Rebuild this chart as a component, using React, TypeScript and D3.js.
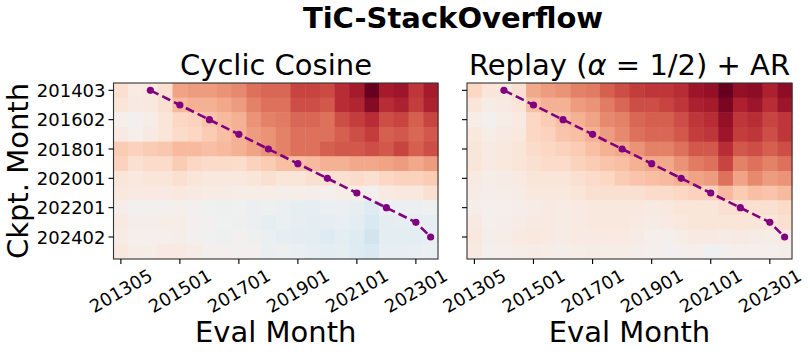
import React from 'react';
import * as d3 from 'd3';

// eval months (columns) and checkpoint months (rows)
const evalMonths = [
  '201305', '201310', '201403', '201408', '201501', '201507', '201601', '201607',
  '201701', '201707', '201801', '201807', '201901', '201907', '202001', '202007',
  '202101', '202107', '202201', '202207', '202301', '202307',
];
const ckptMonths = [
  '201403', '201501', '201602', '201701', '201801', '201901',
  '202001', '202101', '202201', '202301', '202402', '202406',
];
const xTickLabels = ['201305', '201501', '201701', '201901', '202101', '202301'];
const yTickLabels = ['201403', '201602', '201801', '202001', '202201', '202402'];

// the eval month each checkpoint was trained up to (purple diagonal)
const diagCkpt = ['201403', '201501', '201602', '201701', '201801', '201901', '202001', '202101', '202201', '202301', '202402'];
const diagEval = ['201403', '201501', '201601', '201701', '201801', '201901', '202001', '202101', '202201', '202301', '202307'];

// relative scores, one row per checkpoint
const cyclicCosine = [
  [0.15, 0.07, 0.10, 0.15, 0.40, 0.42, 0.42, 0.45, 0.48, 0.55, 0.58, 0.58, 0.68, 0.68, 0.66, 0.75, 0.82, 1.00, 0.82, 0.85, 0.72, 0.82],
  [0.12, 0.08, 0.10, 0.15, 0.32, 0.35, 0.35, 0.38, 0.42, 0.50, 0.55, 0.55, 0.65, 0.65, 0.62, 0.75, 0.78, 0.92, 0.75, 0.80, 0.70, 0.80],
  [0.03, 0.00, 0.05, 0.12, 0.20, 0.22, 0.28, 0.32, 0.35, 0.45, 0.50, 0.52, 0.58, 0.58, 0.55, 0.65, 0.70, 0.75, 0.65, 0.68, 0.60, 0.68],
  [0.08, 0.03, 0.08, 0.12, 0.18, 0.20, 0.25, 0.30, 0.35, 0.42, 0.45, 0.50, 0.55, 0.55, 0.55, 0.60, 0.65, 0.70, 0.60, 0.62, 0.58, 0.62],
  [0.25, 0.22, 0.25, 0.27, 0.32, 0.32, 0.30, 0.32, 0.35, 0.40, 0.45, 0.50, 0.55, 0.55, 0.60, 0.62, 0.62, 0.65, 0.62, 0.68, 0.60, 0.65],
  [0.22, 0.15, 0.18, 0.18, 0.25, 0.20, 0.18, 0.18, 0.17, 0.22, 0.25, 0.30, 0.30, 0.32, 0.35, 0.35, 0.38, 0.38, 0.40, 0.42, 0.38, 0.42],
  [0.12, 0.10, 0.12, 0.12, 0.15, 0.12, 0.10, 0.10, 0.10, 0.12, 0.15, 0.12, 0.12, 0.15, 0.15, 0.15, 0.18, 0.15, 0.20, 0.22, 0.22, 0.25],
  [0.10, 0.08, 0.08, 0.08, 0.10, 0.08, 0.07, 0.06, 0.05, 0.05, 0.05, 0.04, 0.05, 0.04, 0.02, 0.05, 0.05, 0.00, 0.08, 0.10, 0.10, 0.15],
  [0.04, 0.00, -0.01, 0.00, 0.02, 0.00, -0.02, -0.03, -0.02, -0.05, -0.03, -0.05, -0.08, -0.08, -0.06, -0.05, -0.08, -0.12, -0.06, -0.05, -0.05, -0.03],
  [0.08, 0.04, 0.04, 0.05, 0.05, 0.02, 0.00, -0.02, -0.03, -0.05, -0.08, -0.06, -0.08, -0.10, -0.08, -0.07, -0.10, -0.15, -0.10, -0.08, -0.08, -0.08],
  [0.06, 0.03, 0.02, 0.03, 0.04, 0.00, -0.02, -0.03, 0.00, -0.03, -0.06, -0.08, -0.10, -0.10, -0.12, -0.10, -0.12, -0.18, -0.10, -0.10, -0.10, -0.08],
  [0.10, 0.05, 0.05, 0.08, 0.08, 0.06, 0.00, 0.02, 0.00, 0.00, -0.05, -0.03, -0.06, -0.08, -0.10, -0.08, -0.12, -0.15, -0.08, -0.08, -0.07, -0.06],
];

const replayAR = [
  [0.20, 0.12, 0.10, 0.15, 0.38, 0.42, 0.45, 0.50, 0.52, 0.60, 0.65, 0.70, 0.72, 0.72, 0.75, 0.85, 0.88, 1.00, 0.88, 0.90, 0.80, 0.90],
  [0.12, 0.06, 0.08, 0.12, 0.30, 0.35, 0.35, 0.42, 0.45, 0.52, 0.58, 0.65, 0.65, 0.68, 0.72, 0.80, 0.82, 0.95, 0.80, 0.85, 0.75, 0.85],
  [0.05, 0.00, 0.05, 0.08, 0.20, 0.25, 0.30, 0.35, 0.40, 0.48, 0.50, 0.58, 0.60, 0.60, 0.65, 0.72, 0.75, 0.88, 0.72, 0.75, 0.68, 0.72],
  [0.10, 0.05, 0.08, 0.10, 0.20, 0.22, 0.28, 0.30, 0.35, 0.42, 0.48, 0.55, 0.58, 0.58, 0.62, 0.70, 0.72, 0.85, 0.70, 0.72, 0.65, 0.72],
  [0.12, 0.08, 0.10, 0.12, 0.18, 0.20, 0.22, 0.25, 0.30, 0.35, 0.38, 0.45, 0.50, 0.50, 0.55, 0.62, 0.62, 0.75, 0.62, 0.65, 0.60, 0.65],
  [0.12, 0.08, 0.10, 0.12, 0.15, 0.18, 0.18, 0.22, 0.25, 0.28, 0.30, 0.35, 0.38, 0.38, 0.45, 0.52, 0.55, 0.68, 0.50, 0.55, 0.50, 0.55],
  [0.08, 0.05, 0.06, 0.08, 0.12, 0.12, 0.12, 0.15, 0.18, 0.20, 0.25, 0.28, 0.30, 0.32, 0.35, 0.40, 0.42, 0.55, 0.40, 0.48, 0.42, 0.45],
  [0.06, 0.04, 0.05, 0.06, 0.10, 0.10, 0.10, 0.12, 0.15, 0.15, 0.15, 0.15, 0.18, 0.18, 0.20, 0.22, 0.22, 0.32, 0.25, 0.30, 0.28, 0.32],
  [0.04, 0.02, 0.03, 0.04, 0.06, 0.08, 0.07, 0.08, 0.10, 0.10, 0.10, 0.10, 0.08, 0.10, 0.12, 0.12, 0.12, 0.15, 0.15, 0.15, 0.15, 0.18],
  [0.08, 0.03, 0.04, 0.06, 0.08, 0.08, 0.06, 0.08, 0.10, 0.10, 0.10, 0.08, 0.06, 0.08, 0.10, 0.12, 0.12, 0.12, 0.12, 0.12, 0.12, 0.15],
  [0.10, 0.04, 0.05, 0.08, 0.10, 0.08, 0.06, 0.08, 0.08, 0.08, 0.08, 0.06, 0.03, 0.02, 0.05, 0.08, 0.08, 0.06, 0.08, 0.06, 0.05, 0.08],
  [0.08, 0.02, 0.03, 0.05, 0.06, 0.05, 0.04, 0.05, 0.06, 0.05, 0.05, 0.04, 0.02, 0.00, 0.02, 0.03, -0.02, 0.00, 0.03, 0.03, 0.02, 0.04],
];

const W = 810;
const H = 354;
const top = 83;
const bottom = 259;
const font = 'DejaVu Sans, sans-serif';

const color = d3.scaleDiverging(d3.interpolateRdBu).domain([1, 0, -1]);

const y = d3.scaleBand().domain(ckptMonths).range([top, bottom]);

function Panel({ left, right, title, values, showYLabels }) {
  const x = d3.scaleBand().domain(evalMonths).range([left, right]);
  const bw = x.bandwidth();
  const bh = y.bandwidth();
  const line = d3.line()
    .x((d) => x(d[1]) + bw / 2)
    .y((d) => y(d[0]) + bh / 2);
  const diag = diagCkpt.map((c, i) => [c, diagEval[i]]);
  const cx = (left + right) / 2;

  // rotated tick labels, centred under the tick like matplotlib's rotation=30
  const fs = 18;
  const tw = 6 * 0.636 * fs;
  const th = fs * 1.164;
  const rot = Math.PI / 6;
  const boxH = tw * Math.sin(rot) + th * Math.cos(rot);
  const labelY = bottom + 5.5 + boxH / 2;

  return (
    <g>
      {title}
      {values.map((row, r) =>
        row.map((v, c) => (
          <rect
            key={`${r}-${c}`}
            x={x(evalMonths[c])}
            y={y(ckptMonths[r])}
            width={bw + 0.5}
            height={bh + 0.5}
            fill={color(v)}
          />
        ))
      )}
      <path d={line(diag)} fill="none" stroke="#800080" strokeWidth={2.6} strokeDasharray="9,4.2" />
      {diag.map((d, i) => (
        <circle key={i} cx={x(d[1]) + bw / 2} cy={y(d[0]) + bh / 2} r={3.6} fill="#800080" />
      ))}
      <rect x={left} y={top} width={right - left} height={bottom - top} fill="none" stroke="#333" strokeWidth={1.1} />
      {yTickLabels.map((t) => (
        <g key={t}>
          <line x1={left - 5} x2={left} y1={y(t) + bh / 2} y2={y(t) + bh / 2} stroke="#000" strokeWidth={1.1} />
          {showYLabels && (
            <text x={left - 8} y={y(t) + bh / 2} textAnchor="end" dominantBaseline="central" fontSize={fs} fontFamily={font}>
              {t}
            </text>
          )}
        </g>
      ))}
      {xTickLabels.map((t) => {
        const tx = x(t) + bw / 2;
        return (
          <g key={t}>
            <line x1={tx} x2={tx} y1={bottom} y2={bottom + 5} stroke="#000" strokeWidth={1.1} />
            <text
              x={tx}
              y={labelY}
              textAnchor="middle"
              dominantBaseline="central"
              fontSize={fs}
              fontFamily={font}
              transform={`rotate(-30, ${tx}, ${labelY})`}
            >
              {t}
            </text>
          </g>
        );
      })}
      <text x={cx} y={342} textAnchor="middle" fontSize={29} fontFamily={font}>
        Eval Month
      </text>
    </g>
  );
}

export default function App() {
  return (
    <div style={{ position: 'fixed', left: 0, top: 0, background: '#fff' }}>
      <svg width={W} height={H} style={{ display: 'block' }}>
        <rect width={W} height={H} fill="#fff" />
        <text x={453} y={28} textAnchor="middle" fontSize={29} fontWeight="bold" fontFamily={font}>
          TiC-StackOverflow
        </text>
        <text
          x={28}
          y={171}
          textAnchor="middle"
          fontSize={29}
          fontFamily={font}
          transform="rotate(-90, 28, 171)"
        >
          Ckpt. Month
        </text>
        <Panel
          left={113.5}
          right={438}
          values={cyclicCosine}
          showYLabels
          title={
            <text x={276} y={75} textAnchor="middle" fontSize={29} fontFamily={font}>
              Cyclic Cosine
            </text>
          }
        />
        <Panel
          left={467}
          right={792}
          values={replayAR}
          showYLabels={false}
          title={
            <text x={629.5} y={75} textAnchor="middle" fontSize={29} fontFamily={font}>
              Replay (<tspan fontStyle="italic">α</tspan> = 1/2) + AR
            </text>
          }
        />
      </svg>
    </div>
  );
}
